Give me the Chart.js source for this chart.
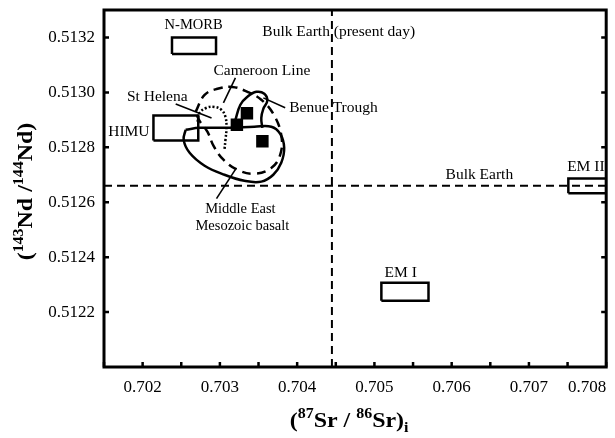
<!DOCTYPE html>
<html>
<head>
<meta charset="utf-8">
<script src="https://cdn.jsdelivr.net/npm/chart.js@4/dist/chart.umd.min.js"></script>
<style>
  html, body { margin: 0; padding: 0; background: #fff; }
  #wrap { width: 615px; height: 438px; }
</style>
</head>
<body>
<div id="wrap"><canvas id="c" width="615" height="438"></canvas></div>
<script>
// Sr–Nd isotope diagram: (87Sr/86Sr)i vs 143Nd/144Nd

// Axis ticks
const xTicks = [0.702, 0.703, 0.704, 0.705, 0.706, 0.707, 0.708];
const xMinorTicks = [0.7015, 0.7025, 0.7035, 0.7045, 0.7055, 0.7065, 0.7075];
const yTicks = [0.5122, 0.5124, 0.5126, 0.5128, 0.5130, 0.5132];
const xRange = [0.7015, 0.708];
const yRange = [0.5120, 0.5133];

// Bulk Earth reference values
const bulkEarthSr = 0.70445;
const bulkEarthNd = 0.51266;

// Mantle end-member fields: [Sr min, Sr max, Nd min, Nd max]
const boxNMORB = [0.70238, 0.70295, 0.51314, 0.51320];
const boxHIMU  = [0.70214, 0.70272, 0.512825, 0.512916];
const boxEMI   = [0.70509, 0.70570, 0.512241, 0.512307];
const boxEMII  = [0.70751, 0.70800, 0.512633, 0.512686];

// Samples (filled squares)
const sampleSr = [0.70322, 0.70335, 0.70355];
const sampleNd = [0.512882, 0.512924, 0.512822];

// Field outlines: Sr values and Nd values
const cameroonSr = [0.702686, 0.702802, 0.702969, 0.703162, 0.703356, 0.703536, 0.703691, 0.703794,
                    0.703781, 0.703665, 0.703446, 0.703227, 0.703046, 0.702918, 0.702840, 0.702737, 0.702686];
const cameroonNd = [0.512929, 0.512991, 0.513013, 0.513020, 0.513002, 0.512973, 0.512922, 0.512845,
                    0.512773, 0.512725, 0.512704, 0.512718, 0.512755, 0.512805, 0.512856, 0.512896, 0.512929];

const stHelenaSr = [0.702711, 0.702737, 0.702827, 0.702930, 0.703021, 0.703072, 0.703085, 0.703072, 0.703059];
const stHelenaNd = [0.512893, 0.512925, 0.512944, 0.512947, 0.512936, 0.512911, 0.512871, 0.512827, 0.512791];

const middleEastSr = [0.702557, 0.702737, 0.703124, 0.703446, 0.703665, 0.703781, 0.703832, 0.703794,
                      0.703691, 0.703536, 0.703317, 0.703059, 0.702802, 0.702608, 0.702531, 0.702557];
const middleEastNd = [0.512864, 0.512871, 0.512871, 0.512875, 0.512875, 0.512849, 0.512798, 0.512744,
                      0.512700, 0.512675, 0.512678, 0.512700, 0.512733, 0.512780, 0.512827, 0.512864];

const benueSr = [0.703201, 0.703265, 0.703356, 0.703472, 0.703575, 0.703613, 0.703562, 0.703536, 0.703549];
const benueNd = [0.512900, 0.512955, 0.512984, 0.513002, 0.512995, 0.512969, 0.512940, 0.512907, 0.512871];

// Label leader lines: [Sr1, Nd1, Sr2, Nd2]
const leaders = [
  [0.703201, 0.513053, 0.703046, 0.512962],   // Cameroon Line
  [0.702428, 0.512958, 0.702892, 0.512907],   // St Helena
  [0.703562, 0.512980, 0.703845, 0.512944],   // Benue Trough
  [0.703214, 0.512725, 0.702956, 0.512613]    // Middle East Mesozoic basalt
];

// Text annotations placed in data coordinates
const annotations = [
  { text: 'N-MORB', x: 0.70266, y: 0.513245, align: 'center', size: 14.5 },
  { text: 'Bulk Earth (present day)', x: 0.703549, y: 0.51322, align: 'left', size: 15.5 },
  { text: 'Cameroon Line', x: 0.703543, y: 0.513078, align: 'center', size: 15.5 },
  { text: 'St Helena', x: 0.702189, y: 0.512984, align: 'center', size: 15.5 },
  { text: 'Benue Trough', x: 0.703897, y: 0.512944, align: 'left', size: 15.5 },
  { text: 'HIMU', x: 0.701822, y: 0.512856, align: 'center', size: 15.5 },
  { text: 'Bulk Earth', x: 0.706358, y: 0.5127, align: 'center', size: 15.5 },
  { text: 'EM II', x: 0.707737, y: 0.512729, align: 'center', size: 15.5 },
  { text: 'EM I', x: 0.70534, y: 0.512344, align: 'center', size: 15.5 },
  { text: 'Middle East', x: 0.703265, y: 0.512576, align: 'center', size: 14.5 },
  { text: 'Mesozoic basalt', x: 0.703291, y: 0.512511, align: 'center', size: 14.5 }
];

const SERIF = '"Liberation Serif", "Times New Roman", Times, serif';

function zipXY(xs, ys) { return xs.map((x, i) => ({ x: x, y: ys[i] })); }
function boxPath(b) {
  return [{ x: b[0], y: b[2] }, { x: b[1], y: b[2] }, { x: b[1], y: b[3] }, { x: b[0], y: b[3] }, { x: b[0], y: b[2] }];
}
function lineSet(data, opts) {
  return Object.assign({
    data: data, showLine: true, pointRadius: 0, pointHoverRadius: 0,
    borderColor: '#000', backgroundColor: '#000', borderWidth: 2.5, fill: false, tension: 0
  }, opts || {});
}

const datasets = [
  lineSet([{ x: bulkEarthSr, y: yRange[0] }, { x: bulkEarthSr, y: yRange[1] }], { borderWidth: 2, borderDash: [8, 5] }),
  lineSet([{ x: xRange[0], y: bulkEarthNd }, { x: xRange[1], y: bulkEarthNd }], { borderWidth: 2, borderDash: [8, 5] }),
  lineSet(boxPath(boxNMORB), { borderJoinStyle: 'miter' }),
  lineSet(boxPath(boxHIMU), { borderJoinStyle: 'miter' }),
  lineSet(boxPath(boxEMI), { borderJoinStyle: 'miter' }),
  lineSet(boxPath(boxEMII), { borderJoinStyle: 'miter' }),
  lineSet(zipXY(middleEastSr, middleEastNd), { tension: 0.4 }),
  lineSet(zipXY(cameroonSr, cameroonNd), { tension: 0.4, borderDash: [9, 6] }),
  lineSet(zipXY(stHelenaSr, stHelenaNd), { tension: 0.4, borderDash: [2, 2] }),
  lineSet(zipXY(benueSr, benueNd), { tension: 0.4 }),
  ...leaders.map(l => lineSet([{ x: l[0], y: l[1] }, { x: l[2], y: l[3] }], { borderWidth: 1.6 })),
  {
    data: zipXY(sampleSr, sampleNd), showLine: false,
    pointStyle: 'rect', pointRadius: 8.8, pointHoverRadius: 8.8,
    pointBackgroundColor: '#000', pointBorderWidth: 0, pointBorderColor: '#000'
  }
];

// Frame with inward tick marks on bottom, left and right
const framePlugin = {
  id: 'frame',
  afterDatasetsDraw(chart) {
    const { ctx, chartArea: a, scales } = chart;
    ctx.save();
    ctx.strokeStyle = '#000';
    ctx.lineWidth = 2.5;
    ctx.lineCap = 'butt';
    ctx.beginPath();
    xTicks.concat(xMinorTicks).forEach(v => {
      const px = scales.x.getPixelForValue(v);
      ctx.moveTo(px, a.bottom); ctx.lineTo(px, a.bottom - 5);
    });
    yTicks.forEach(v => {
      const py = scales.y.getPixelForValue(v);
      ctx.moveTo(a.left, py); ctx.lineTo(a.left + 5, py);
      ctx.moveTo(a.right, py); ctx.lineTo(a.right - 5, py);
    });
    ctx.stroke();
    ctx.lineWidth = 3;
    ctx.strokeRect(a.left, a.top, a.right - a.left, a.bottom - a.top);
    ctx.restore();
  }
};

// Axis titles with super/subscripts, stretched slightly along the text
function drawRich(ctx, parts, cx, cy, size, stretch) {
  const big = 'bold ' + size + 'px ' + SERIF;
  const small = 'bold ' + Math.round(size * 0.68) + 'px ' + SERIF;
  let w = 0;
  parts.forEach(p => { ctx.font = p.s ? small : big; p.w = ctx.measureText(p.t).width; w += p.w; });
  ctx.save();
  ctx.translate(cx, cy);
  ctx.scale(stretch, 1);
  let x = -w / 2;
  ctx.textBaseline = 'alphabetic';
  ctx.textAlign = 'left';
  parts.forEach(p => {
    ctx.font = p.s ? small : big;
    let dy = 0;
    if (p.s === 'sup') dy = -size * 0.42;
    if (p.s === 'sub') dy = size * 0.22;
    ctx.fillText(p.t, x, dy);
    x += p.w;
  });
  ctx.restore();
}

const labelPlugin = {
  id: 'labels',
  afterDraw(chart) {
    const { ctx, scales, chartArea: a } = chart;
    ctx.save();
    ctx.fillStyle = '#000';
    annotations.forEach(an => {
      ctx.font = an.size + 'px ' + SERIF;
      ctx.textAlign = an.align;
      ctx.textBaseline = 'middle';
      ctx.fillText(an.text, scales.x.getPixelForValue(an.x), scales.y.getPixelForValue(an.y));
    });
    // x-axis title
    drawRich(ctx, [
      { t: '(' }, { t: '87', s: 'sup' }, { t: 'Sr / ' }, { t: '86', s: 'sup' }, { t: 'Sr)' }, { t: 'i', s: 'sub' }
    ], (a.left + a.right) / 2 - 6, 427, 21, 1.14);
    // y-axis title
    ctx.save();
    ctx.translate(32, (a.top + a.bottom) / 2 + 3);
    ctx.rotate(-Math.PI / 2);
    drawRich(ctx, [
      { t: '(' }, { t: '143', s: 'sup' }, { t: 'Nd /' }, { t: '144', s: 'sup' }, { t: 'Nd)' }
    ], 0, 0, 21, 1.14);
    ctx.restore();
    ctx.restore();
  }
};

Chart.defaults.color = '#000';
Chart.defaults.font.family = SERIF;

new Chart(document.getElementById('c'), {
  type: 'scatter',
  data: { datasets: datasets },
  options: {
    responsive: false,
    animation: false,
    devicePixelRatio: 1,
    layout: { padding: { top: 10, right: 7, left: 0, bottom: 0 } },
    plugins: { legend: { display: false }, tooltip: { enabled: false } },
    scales: {
      x: {
        type: 'linear', min: xRange[0], max: xRange[1],
        grid: { display: false, drawTicks: false }, border: { display: false },
        afterBuildTicks: s => { s.ticks = xMinorTicks.concat(xTicks).sort((p, q) => p - q).map(v => ({ value: v })); },
        afterFit: s => { s.height = 71; s.paddingLeft = 0; s.paddingRight = 0; },
        ticks: {
          align: 'inner', padding: 10, font: { size: 17, family: SERIF }, color: '#000',
          maxRotation: 0, autoSkip: false,
          callback: v => xTicks.some(t => Math.abs(t - v) < 1e-9) ? v.toFixed(3) : ''
        }
      },
      y: {
        type: 'linear', min: yRange[0], max: yRange[1],
        grid: { display: false, drawTicks: false }, border: { display: false },
        afterBuildTicks: s => { s.ticks = yTicks.map(v => ({ value: v })); },
        afterFit: s => { s.width = 104; s.paddingTop = 0; s.paddingBottom = 0; },
        ticks: {
          padding: 9, font: { size: 17, family: SERIF }, color: '#000', autoSkip: false,
          callback: v => v.toFixed(4)
        }
      }
    }
  },
  plugins: [framePlugin, labelPlugin]
});
</script>
</body>
</html>
